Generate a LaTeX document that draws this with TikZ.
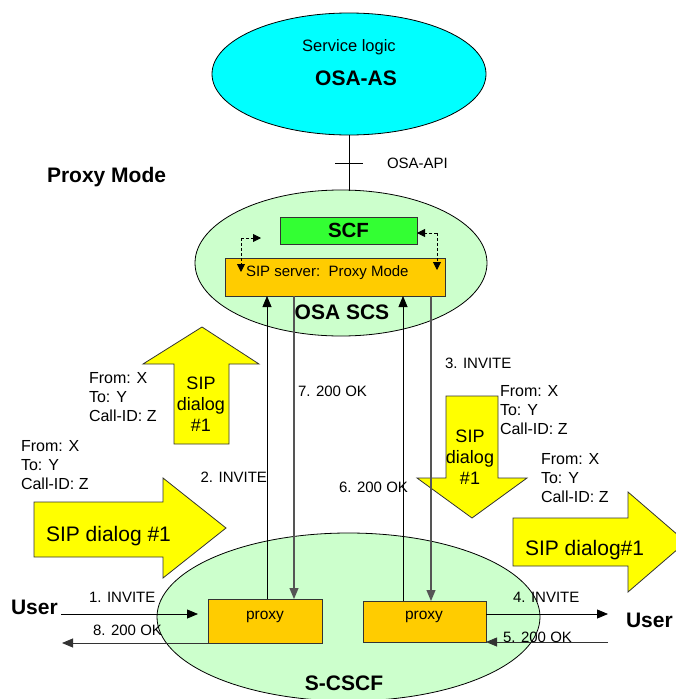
\documentclass[tikz,border=0pt]{standalone}
\usepackage{fontspec}
\setmainfont{Liberation Sans}
\usetikzlibrary{arrows.meta,shapes.geometric}
\definecolor{cyanfill}{HTML}{00FFFF}
\definecolor{lgreen}{HTML}{CCFFCC}
\definecolor{scfgreen}{HTML}{33FF33}
\definecolor{orangebox}{HTML}{FFCC00}
\definecolor{bigyellow}{HTML}{FFFF00}
\definecolor{downgray}{HTML}{555555}
\tikzset{
  every node/.style={inner sep=0pt, outer sep=0pt},
  ttl/.style={font=\fontsize{21}{24}\selectfont\bfseries},
  lbl/.style={font=\fontsize{15}{18}\selectfont},
  hdr/.style={font=\fontsize{16}{19}\selectfont, align=left, anchor=north west},
  bigarrow/.style={draw=black!80, fill=bigyellow, line width=0.8pt, line join=miter},
  boxo/.style={draw=black!80, fill=orangebox, line width=0.9pt},
  tip/.style={-{Triangle[length=11pt,width=9pt]}},
  stip/.style={-{Triangle[length=8pt,width=8pt]}},
  upline/.style={black, line width=0.8pt},
  downline/.style={downgray, line width=1.1pt},
  dashln/.style={dashed, line width=0.9pt, dash pattern=on 3pt off 2pt}
}
\begin{document}
\begin{tikzpicture}[x=1pt,y=-1pt]
\useasboundingbox (0,0) rectangle (676,699);
% OSA-AS
\node[draw, fill=cyanfill, ellipse, minimum width=274, minimum height=122, line width=0.8pt] (as) at (349,74) {};
\node[lbl, font=\fontsize{16.5}{19}\selectfont] (slogic) at (349,47) {Service logic};
\node[ttl] (osaas) at (356,78) {OSA-AS};
% OSA SCS
\node[draw, fill=lgreen, ellipse, minimum width=292, minimum height=146, line width=0.8pt] (scs) at (341,263) {};
\coordinate (apibot) at (349,191);
\draw[line width=0.8pt] (as.south) -- (apibot);
\coordinate (tickl) at (335,163);
\coordinate (tickr) at (363,163);
\draw[line width=0.8pt] (tickl) -- (tickr);
\node[lbl, anchor=west] (api) at (387,163) {OSA-API};
\node[ttl, anchor=west] (pmode) at (47,177) {Proxy Mode};
\node[draw=black!80, fill=scfgreen, line width=0.9pt, minimum width=137, minimum height=27] (scf) at (348.5,230.5) {};
\node[ttl, font=\fontsize{20.5}{24}\selectfont\bfseries] at (scf) {SCF};
\node[boxo, minimum width=220, minimum height=38] (sip) at (335,277) {};
\node[lbl, anchor=west] (siptxt) at (246,273) {SIP server:\ \ Proxy Mode};
\node[ttl] (scstxt) at (342,312) {OSA SCS};
% dashed arrows
\coordinate (dl1) at (241,272);
\coordinate (dl2) at (241,238);
\coordinate (dl3) at (261,238);
\draw[dashln, stip] (dl2) -- (dl1);
\draw[dashln, stip] (dl2) -- (dl3);
\coordinate (dr1) at (437,233);
\coordinate (dr2) at (437,270);
\draw[dashln, stip] (dr1) -- (scf.east |- dr1);
\draw[dashln, stip] (dr1) -- (dr2);
% big yellow arrows
\draw[bigarrow] (174,444) -- (174,364) -- (143,364) -- (202,327) -- (259,364) -- (229,364) -- (229,444) -- cycle;
\node[font=\fontsize{18}{21}\selectfont, align=center] (upt) at (201,404) {SIP\\dialog\\\#1};
\draw[bigarrow] (446,396) -- (498,396) -- (498,478) -- (527,478) -- (472,518) -- (417,478) -- (446,478) -- cycle;
\node[font=\fontsize{18}{21}\selectfont, align=center] (dnt) at (470,457) {SIP\\dialog\\\#1};
\draw[bigarrow] (34,502) -- (163,502) -- (163,478) -- (226,528) -- (163,578) -- (163,557) -- (34,557) -- cycle;
\node[font=\fontsize{21}{24}\selectfont, anchor=west] (lt) at (46,536) {SIP dialog \#1};
\draw[bigarrow] (513,518) -- (628,518) -- (628,492) -- (686,542) -- (628,592) -- (628,566) -- (513,566) -- cycle;
\node[font=\fontsize{21}{24}\selectfont, anchor=west] (rt) at (525,550) {SIP dialog\#1};
% header blocks
\node[hdr] (h1) at (89,372) {From: X\\To: Y\\Call-ID: Z};
\node[hdr] (h2) at (21,440) {From: X\\To: Y\\Call-ID: Z};
\node[hdr] (h3) at (500,385) {From: X\\To: Y\\Call-ID: Z};
\node[hdr] (h4) at (541,453) {From: X\\To: Y\\Call-ID: Z};
% S-CSCF
\node[draw, fill=lgreen, ellipse, minimum width=383, minimum height=168, line width=0.8pt] (cscf) at (348.5,617) {};
\node[ttl] (cscftxt) at (344,683) {S-CSCF};
\node[boxo, minimum width=114, minimum height=44] (lp) at (265,621) {};
\node[lbl, font=\fontsize{15.5}{18}\selectfont] at (265,617) {proxy};
\node[boxo, minimum width=123, minimum height=41] (rp) at (424.5,621.5) {};
\node[lbl, font=\fontsize{15.5}{18}\selectfont] at (424,617) {proxy};
% vertical message lines
\coordinate (x1) at (267,0);
\coordinate (x2) at (294,0);
\coordinate (x3) at (403,0);
\coordinate (x4) at (431,0);
\draw[upline, tip] (lp.north -| x1) -- (sip.south -| x1);
\draw[downline, tip] (sip.south -| x2) -- (lp.north -| x2);
\draw[upline, tip] (rp.north -| x3) -- (sip.south -| x3);
\draw[downline, tip] (sip.south -| x4) -- (rp.north -| x4);
\node[lbl, anchor=east] (m2) at (267,477) {2. INVITE};
\node[lbl, anchor=west] (m7) at (298,391) {7. 200 OK};
\node[lbl, anchor=west] (m3) at (445,363) {3. INVITE};
\node[lbl, anchor=west] (m6) at (339,487) {6. 200 OK};
% user side
\node[ttl, anchor=west] (ul) at (11,607) {User};
\node[ttl, anchor=west] (ur) at (626,620) {User};
\coordinate (in1) at (61,614);
\draw[line width=0.8pt, tip] (in1) -- (198,614);
\coordinate (out8) at (62,0);
\draw[line width=0.9pt, black!80, tip] (lp.south west) -- (out8 |- lp.south west);
\coordinate (out4) at (608,614);
\draw[line width=0.8pt, tip] (rp.east |- out4) -- (out4);
\coordinate (in5) at (608,0);
\draw[line width=0.8pt, black!80, tip] (in5 |- rp.south east) -- (rp.south east);
\node[lbl, anchor=west] (m1) at (89,597) {1. INVITE};
\node[lbl, anchor=west] (m8) at (93,630) {8. 200 OK};
\node[lbl, anchor=west] (m4) at (513,597) {4. INVITE};
\node[lbl, anchor=west] (m5) at (503,637) {5. 200 OK};
\end{tikzpicture}
\end{document}
